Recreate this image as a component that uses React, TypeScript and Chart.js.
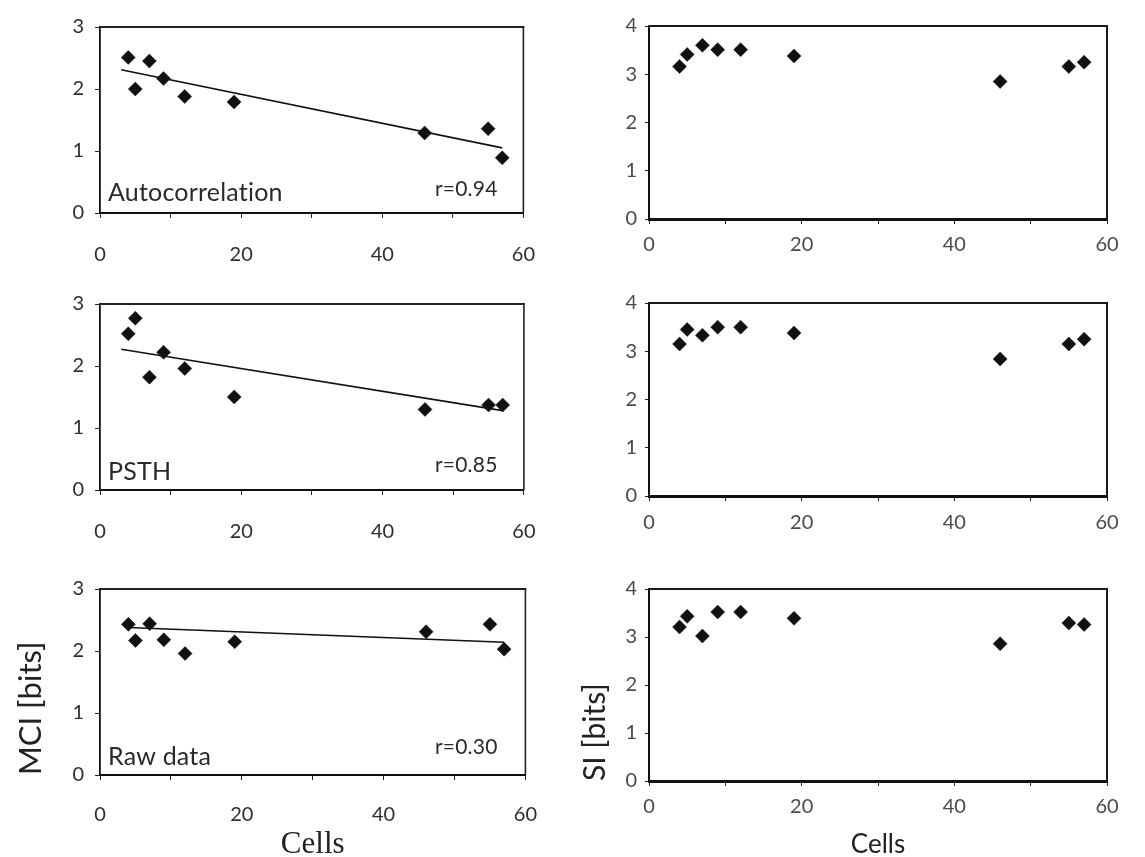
import React, { useEffect, useRef } from "react";
import { Chart, registerables } from "chart.js";

Chart.register(...registerables);

// ---------- data ----------
const cells = [4, 5, 7, 9, 12, 19, 46, 55, 57];

const mciAutocorrelation = [2.51, 2.0, 2.45, 2.17, 1.88, 1.79, 1.29, 1.36, 0.89];
const siAutocorrelation = [3.16, 3.41, 3.6, 3.51, 3.51, 3.38, 2.85, 3.16, 3.25];
const mciPsth = [2.52, 2.77, 1.82, 2.22, 1.96, 1.5, 1.3, 1.37, 1.37];
const siPsth = [3.15, 3.45, 3.33, 3.5, 3.5, 3.38, 2.84, 3.15, 3.25];
const mciRaw = [2.43, 2.17, 2.44, 2.18, 1.96, 2.15, 2.31, 2.43, 2.03];
const siRaw = [3.21, 3.43, 3.02, 3.52, 3.52, 3.39, 2.86, 3.29, 3.26];

const trendAutocorrelationX = [3, 57];
const trendAutocorrelationY = [2.31, 1.05];
const trendPsthX = [3, 57];
const trendPsthY = [2.27, 1.28];
const trendRawX = [4, 57];
const trendRawY = [2.38, 2.14];

const panelLabels = ["Autocorrelation", "PSTH", "Raw data"];
const rLabels = ["r=0.94", "r=0.85", "r=0.30"];
const xTickLabels = ["0", "20", "40", "60"];
const xMax = 60;
const mciMax = 3;
const siMax = 4;
const xTitle = "Cells";
const mciTitle = "MCI [bits]";
const siTitle = "SI [bits]";

// ---------- layout / style ----------
type Geo = { x0: number; y0: number; w: number; h: number; L: number; T: number; R: number; B: number };

const geoLeft: Geo[] = [
  { x0: 0, y0: 4, w: 560, h: 271, L: 100, T: 18, R: 542, B: 213 },
  { x0: 0, y0: 281, w: 560, h: 279, L: 100, T: 295, R: 542, B: 490 },
  { x0: 0, y0: 566, w: 560, h: 291, L: 100, T: 580, R: 542, B: 775 },
];
const geoRight: Geo[] = [
  { x0: 580, y0: 6, w: 565, h: 269, L: 649, T: 20, R: 1107, B: 219 },
  { x0: 580, y0: 283, w: 565, h: 277, L: 649, T: 297, R: 1107, B: 496 },
  { x0: 580, y0: 569, w: 565, h: 288, L: 649, T: 583, R: 1107, B: 781 },
];
const leftXLabelPad = [25, 24.5, 23];
const rightXLabelPad = [9, 9.5, 9];
const labelDy = [-20.5, -18.5, -18.5];
const rDy = [-24, -25, -28];

const SANS = "Lato, 'Open Sans', sans-serif";
const SERIF = "'Liberation Serif', 'Times New Roman', serif";

type PanelSpec = {
  values: number[];
  trendX?: number[];
  trendY?: number[];
  yMax: number;
  label?: string;
  rText?: string;
  yTitle?: string;
  xTitle?: string;
  xTitleFont?: any;
  yTitleFont?: any;
  yTitlePad?: number;
  geo: Geo;
  left: boolean;
  xLabelPad: number;
  labelDy?: number;
  rDy?: number;
};

const framePlugin = {
  id: "frame",
  afterDraw(chart: any, _args: any, opts: any) {
    const { ctx, chartArea } = chart;
    const { left, top, right, bottom } = chartArea;
    ctx.save();
    ctx.strokeStyle = opts.color;
    ctx.lineWidth = opts.topWidth;
    ctx.beginPath();
    ctx.moveTo(left - 1, top);
    ctx.lineTo(right + 1, top);
    ctx.stroke();
    ctx.lineWidth = opts.rightWidth;
    ctx.beginPath();
    ctx.moveTo(right, top);
    ctx.lineTo(right, bottom);
    ctx.stroke();
    ctx.fillStyle = "#2a2a2a";
    ctx.textBaseline = "middle";
    ctx.textAlign = "left";
    // a tiny letter spacing keeps the "ti" pair from being drawn as a ligature
    try {
      (ctx as any).letterSpacing = "0.2px";
    } catch (e) {
      /* ignore */
    }
    if (opts.label) {
      ctx.font = `25px ${SANS}`;
      ctx.fillText(opts.label, left + 8, bottom + opts.labelDy);
    }
    if (opts.rText) {
      ctx.font = `21px ${SANS}`;
      ctx.fillText(opts.rText, left + 335, bottom + opts.rDy);
    }
    ctx.restore();
  },
};

function Panel({ spec }: { spec: PanelSpec }) {
  const ref = useRef<HTMLCanvasElement | null>(null);
  useEffect(() => {
    if (!ref.current) return;
    const g = spec.geo;
    const yAxisW = g.L - g.x0;
    const xAxisH = g.y0 + g.h - g.B;
    const tickColor = spec.left ? "#2e2e2e" : "#4a4a4a";
    const tickSize = 20;
    const datasets: any[] = [
      {
        data: cells.map((c, i) => ({ x: c, y: spec.values[i] })),
        pointStyle: "rectRot",
        pointRadius: 7,
        pointHoverRadius: 7,
        pointBackgroundColor: "#111",
        pointBorderColor: "#111",
        pointBorderWidth: 0.5,
        showLine: false,
      },
    ];
    if (spec.trendX && spec.trendY) {
      datasets.push({
        data: spec.trendX.map((x, i) => ({ x, y: spec.trendY![i] })),
        showLine: true,
        borderColor: "#111",
        borderWidth: 1.6,
        pointRadius: 0,
        pointHoverRadius: 0,
        fill: false,
      });
    }
    const chart = new Chart(ref.current, {
      type: "scatter",
      data: { datasets },
      plugins: [framePlugin],
      options: {
        animation: false,
        responsive: false,
        devicePixelRatio: 1,
        events: [],
        layout: {
          padding: { top: g.T - g.y0, right: g.x0 + g.w - g.R, left: 0, bottom: 0 },
        },
        plugins: {
          legend: { display: false },
          tooltip: { enabled: false },
          frame: {
            color: spec.left ? "#222" : "#1a1a1a",
            topWidth: 2,
            rightWidth: spec.left ? 1.6 : 2,
            label: spec.label,
            rText: spec.rText,
            labelDy: spec.labelDy,
            rDy: spec.rDy,
          },
        } as any,
        scales: {
          x: {
            type: "linear",
            position: "bottom",
            min: 0,
            max: xMax,
            afterFit: (s: any) => {
              s.height = xAxisH;
            },
            ticks: {
              stepSize: 10,
              autoSkip: false,
              maxRotation: 0,
              padding: spec.xLabelPad,
              color: tickColor,
              font: { family: SANS, size: tickSize },
              callback: (v: any) => {
                const idx = xTickLabels.indexOf(String(v));
                return idx >= 0 ? xTickLabels[idx] : "";
              },
            },
            grid: {
              display: true,
              drawOnChartArea: false,
              drawTicks: true,
              tickLength: 5,
              color: "#222",
              lineWidth: 1,
            },
            border: { display: true, color: "#111", width: spec.left ? 2 : 3 },
            title: spec.xTitle
              ? {
                  display: true,
                  text: spec.xTitle,
                  color: "#222",
                  font: spec.xTitleFont,
                  padding: { top: 0, bottom: 0 },
                }
              : { display: false },
          },
          y: {
            type: "linear",
            position: "left",
            min: 0,
            max: spec.yMax,
            afterFit: (s: any) => {
              s.width = yAxisW;
            },
            ticks: {
              stepSize: 1,
              padding: spec.left ? 11 : 8,
              color: tickColor,
              font: { family: SANS, size: tickSize },
            },
            grid: {
              display: true,
              drawOnChartArea: false,
              drawTicks: true,
              tickLength: spec.left ? 5 : 4,
              color: "#222",
              lineWidth: 1,
            },
            border: { display: true, color: "#111", width: spec.left ? 1.8 : 2 },
            title: spec.yTitle
              ? {
                  display: true,
                  text: spec.yTitle,
                  align: "start",
                  color: "#222",
                  font: spec.yTitleFont,
                  padding: { top: spec.yTitlePad ?? 0, bottom: 0 },
                }
              : { display: false },
          },
        },
      } as any,
    });
    return () => chart.destroy();
  }, [spec]);
  const g = spec.geo;
  return (
    <canvas
      ref={ref}
      width={g.w}
      height={g.h}
      style={{ position: "absolute", left: g.x0, top: g.y0, width: g.w, height: g.h }}
    />
  );
}

const specs: PanelSpec[] = [
  {
    values: mciAutocorrelation,
    trendX: trendAutocorrelationX,
    trendY: trendAutocorrelationY,
    yMax: mciMax,
    label: panelLabels[0],
    rText: rLabels[0],
    geo: geoLeft[0],
    left: true,
    xLabelPad: leftXLabelPad[0],
    labelDy: labelDy[0],
    rDy: rDy[0],
  },
  {
    values: siAutocorrelation,
    yMax: siMax,
    geo: geoRight[0],
    left: false,
    xLabelPad: rightXLabelPad[0],
  },
  {
    values: mciPsth,
    trendX: trendPsthX,
    trendY: trendPsthY,
    yMax: mciMax,
    label: panelLabels[1],
    rText: rLabels[1],
    geo: geoLeft[1],
    left: true,
    xLabelPad: leftXLabelPad[1],
    labelDy: labelDy[1],
    rDy: rDy[1],
  },
  {
    values: siPsth,
    yMax: siMax,
    geo: geoRight[1],
    left: false,
    xLabelPad: rightXLabelPad[1],
  },
  {
    values: mciRaw,
    trendX: trendRawX,
    trendY: trendRawY,
    yMax: mciMax,
    label: panelLabels[2],
    rText: rLabels[2],
    yTitle: mciTitle,
    yTitleFont: { family: SANS, size: 31, lineHeight: 1.2 },
    yTitlePad: 12,
    xTitle: xTitle,
    xTitleFont: { family: SERIF, size: 31, lineHeight: 0.78 },
    geo: geoLeft[2],
    left: true,
    xLabelPad: leftXLabelPad[2],
    labelDy: labelDy[2],
    rDy: rDy[2],
  },
  {
    values: siRaw,
    yMax: siMax,
    yTitle: siTitle,
    yTitleFont: { family: SANS, size: 30, lineHeight: 1.0 },
    yTitlePad: 0,
    xTitle: xTitle,
    xTitleFont: { family: SANS, size: 26, lineHeight: 0.92 },
    geo: geoRight[2],
    left: false,
    xLabelPad: rightXLabelPad[2],
  },
];

export default function App() {
  return (
    <div
      style={{
        position: "absolute",
        left: 0,
        top: 0,
        width: 1145,
        height: 857,
        background: "#fff",
        overflow: "hidden",
      }}
    >
      {specs.map((s, i) => (
        <Panel key={i} spec={s} />
      ))}
    </div>
  );
}
